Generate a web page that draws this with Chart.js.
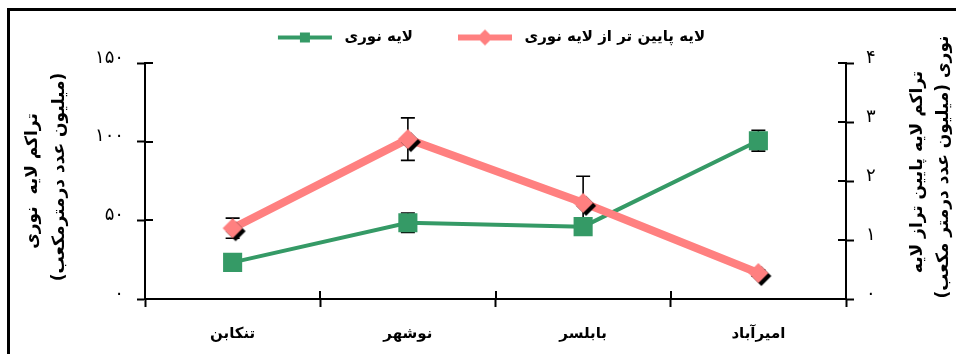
<!DOCTYPE html>
<html>
<head>
<meta charset="utf-8">
<script src="https://cdn.jsdelivr.net/npm/chart.js@4.4.1/dist/chart.umd.min.js"></script>
<style>
  html, body { margin: 0; padding: 0; background: #fff; }
  #wrap { width: 956px; height: 354px; position: relative; }
</style>
</head>
<body>
<div id="wrap"><canvas id="chart" width="956" height="354"></canvas></div>
<script>
// Sampling stations
const categories = ['تنکابن', 'نوشهر', 'بابلسر', 'امیرآباد'];

// Photic layer density (left axis) with standard errors
const photicValues = [23.3, 48.5, 46, 100.6];
const photicErrors = [3, 6.2, 3, 6.6];

// Density below the photic layer (right axis) with standard errors
const belowValues = [1.2, 2.71, 1.63, 0.44];
const belowErrors = [0.17, 0.36, 0.45, 0.05];

// Tick labels in Persian digits
const leftTickLabels = ['۰', '۵۰', '۱۰۰', '۱۵۰'];
const rightTickLabels = ['۰', '۱', '۲', '۳', '۴'];

const seriesNames = ['لایه نوری', 'لایه پایین تر از لایه نوری'];
const leftTitle = ['تراکم لایه  نوری', '(میلیون عدد درمترمکعب)'];
const rightTitle = ['تراکم لایه پایین تراز لایه', 'نوری (میلیون عدد درمتر مکعب)'];

const GREEN = '#359a66';
const PINK = '#ff8080';
const INK = '#000000';
const FONT = "'DejaVu Sans', sans-serif";

function diamondPath(g, cx, cy, r) {
  g.beginPath();
  g.moveTo(cx, cy - r);
  g.lineTo(cx + r, cy);
  g.lineTo(cx, cy + r);
  g.lineTo(cx - r, cy);
  g.closePath();
}

// Pink diamond marker with a dark drop shadow to the lower right
function makeDiamondMarker(r, off) {
  const size = 2 * (r + off + 1);
  const c = document.createElement('canvas');
  c.width = size; c.height = size;
  const g = c.getContext('2d');
  const m = size / 2;
  diamondPath(g, m + off, m + off, r);
  g.fillStyle = INK; g.fill();
  diamondPath(g, m, m, r);
  g.fillStyle = PINK; g.fill();
  return c;
}

// Legend symbol: a line segment with the series marker in the middle
function makeLegendIcon(color, lineW, marker) {
  const lead = 27, len = 54, tail = 5, h = 22;
  const c = document.createElement('canvas');
  c.width = lead + len + tail; c.height = h;
  const g = c.getContext('2d');
  const cy = h / 2, cx = lead + len / 2;
  g.strokeStyle = color; g.lineWidth = lineW;
  g.beginPath(); g.moveTo(lead, cy); g.lineTo(lead + len, cy); g.stroke();
  g.fillStyle = color;
  if (marker === 'square') {
    g.fillRect(cx - 5, cy - 5, 10, 10);
  } else {
    diamondPath(g, cx, cy, 8); g.fill();
  }
  return c;
}

const pinkMarker = makeDiamondMarker(10, 3);
const legendGreen = makeLegendIcon(GREEN, 4, 'square');
const legendPink = makeLegendIcon(PINK, 6, 'diamond');

// Extra gap between the legend row and the plot area
const legendGapPlugin = {
  id: 'legendGap',
  beforeLayout(chart) {
    const lg = chart.legend;
    if (lg && !lg._gapAdded) {
      const fit = lg.fit.bind(lg);
      lg.fit = function () { fit(); this.height += 8; };
      lg._gapAdded = true;
    }
  }
};

// Outer frame (top and left edges)
const framePlugin = {
  id: 'frame',
  beforeDraw(chart) {
    const ctx = chart.ctx;
    ctx.save();
    ctx.strokeStyle = INK; ctx.lineWidth = 3;
    ctx.beginPath();
    ctx.moveTo(chart.width + 5, 9.5);
    ctx.lineTo(8.5, 9.5);
    ctx.lineTo(8.5, chart.height + 5);
    ctx.stroke();
    ctx.restore();
  }
};

// Error bars drawn beneath the markers
const errorBarPlugin = {
  id: 'errorBars',
  beforeDatasetsDraw(chart) {
    const ctx = chart.ctx;
    const xs = chart.scales.x;
    ctx.save();
    ctx.strokeStyle = INK; ctx.lineWidth = 1.6;
    chart.data.datasets.forEach(ds => {
      const ys = chart.scales[ds.yAxisID];
      ds.data.forEach((v, i) => {
        const e = ds.errors[i];
        const x = xs.getPixelForValue(i);
        const y1 = ys.getPixelForValue(v + e);
        const y2 = ys.getPixelForValue(v - e);
        ctx.beginPath();
        ctx.moveTo(x, y1); ctx.lineTo(x, y2);
        ctx.moveTo(x - 7, y1); ctx.lineTo(x + 7, y1);
        ctx.moveTo(x - 7, y2); ctx.lineTo(x + 7, y2);
        ctx.stroke();
      });
    });
    ctx.restore();
  }
};

// Inner halves of the tick marks, so ticks cross the axis lines
const innerTickPlugin = {
  id: 'innerTicks',
  afterDatasetsDraw(chart) {
    const ctx = chart.ctx;
    const { x, y, y1 } = chart.scales;
    const len = 8;
    ctx.save();
    ctx.strokeStyle = INK; ctx.lineWidth = 2;
    ctx.beginPath();
    y.ticks.forEach((t, i) => {
      const p = Math.round(y.getPixelForTick(i));
      ctx.moveTo(y.right, p); ctx.lineTo(y.right + len, p);
    });
    y1.ticks.forEach((t, i) => {
      const p = Math.round(y1.getPixelForTick(i));
      ctx.moveTo(y1.left - len, p); ctx.lineTo(y1.left, p);
    });
    for (let i = 1; i < categories.length; i++) {
      const p = Math.round((x.getPixelForValue(i - 1) + x.getPixelForValue(i)) / 2);
      ctx.moveTo(p, x.top - len); ctx.lineTo(p, x.top);
    }
    ctx.stroke();
    ctx.restore();
  }
};

// Rotated two-line axis titles
const axisTitlePlugin = {
  id: 'axisTitles',
  afterDraw(chart) {
    const ctx = chart.ctx;
    const a = chart.chartArea;
    const midY = (a.top + a.bottom) / 2;
    const put = (text, x, y) => {
      ctx.save();
      ctx.translate(x, y);
      ctx.rotate(-Math.PI / 2);
      ctx.direction = 'rtl';
      ctx.textAlign = 'center';
      ctx.textBaseline = 'middle';
      ctx.fillText(text, 0, 0);
      ctx.restore();
    };
    ctx.save();
    ctx.fillStyle = INK;
    ctx.font = 'bold 17px ' + FONT;
    put(leftTitle[0], a.left - 112, midY);
    put(leftTitle[1], a.left - 85, midY - 4);
    put(rightTitle[0], a.right + 72, midY - 9);
    put(rightTitle[1], a.right + 98, midY - 14);
    ctx.restore();
  }
};

const chart = new Chart(document.getElementById('chart'), {
  type: 'line',
  data: {
    labels: categories,
    datasets: [
      {
        label: seriesNames[1],
        data: belowValues,
        errors: belowErrors,
        yAxisID: 'y1',
        borderColor: PINK,
        backgroundColor: PINK,
        borderWidth: 8,
        pointStyle: pinkMarker,
        tension: 0
      },
      {
        label: seriesNames[0],
        data: photicValues,
        errors: photicErrors,
        yAxisID: 'y',
        borderColor: GREEN,
        backgroundColor: GREEN,
        borderWidth: 4,
        pointStyle: 'rect',
        pointRadius: 13.5,
        pointBorderWidth: 0,
        tension: 0
      }
    ]
  },
  options: {
    responsive: false,
    animation: false,
    events: [],
    layout: { padding: { top: 12, left: 0, right: 0, bottom: 0 } },
    plugins: {
      tooltip: { enabled: false },
      legend: {
        position: 'top',
        labels: {
          usePointStyle: true,
          pointStyleWidth: legendGreen.width,
          padding: 18,
          color: INK,
          font: { family: FONT, size: 15, weight: 'bold' },
          generateLabels() {
            return [
              { text: seriesNames[0], pointStyle: legendGreen, fillStyle: GREEN, strokeStyle: GREEN, lineWidth: 0, hidden: false, datasetIndex: 1, fontColor: INK },
              { text: seriesNames[1], pointStyle: legendPink, fillStyle: PINK, strokeStyle: PINK, lineWidth: 0, hidden: false, datasetIndex: 0, fontColor: INK }
            ];
          }
        }
      }
    },
    scales: {
      x: {
        type: 'category',
        offset: true,
        afterFit(s) { s.height = 55; },
        grid: { display: true, offset: true, drawOnChartArea: false, tickLength: 8, tickWidth: 2, tickColor: INK },
        border: { display: true, color: INK, width: 2 },
        ticks: { color: INK, padding: 18, font: { family: FONT, size: 15, weight: 'bold' } }
      },
      y: {
        position: 'left',
        min: 0, max: 150,
        afterFit(s) { s.width = 145; },
        grid: { display: true, drawOnChartArea: false, tickLength: 8, tickWidth: 2, tickColor: INK },
        border: { display: true, color: INK, width: 2 },
        ticks: {
          stepSize: 50,
          color: INK,
          padding: 13,
          labelOffset: -5,
          font: { family: FONT, size: 18 },
          callback: (v, i) => leftTickLabels[i]
        }
      },
      y1: {
        position: 'right',
        min: 0, max: 4,
        afterFit(s) { s.width = 110; },
        grid: { display: true, drawOnChartArea: false, tickLength: 8, tickWidth: 2, tickColor: INK },
        border: { display: true, color: INK, width: 2 },
        ticks: {
          stepSize: 1,
          color: INK,
          padding: 12,
          labelOffset: -5,
          font: { family: FONT, size: 18 },
          callback: (v, i) => rightTickLabels[i]
        }
      }
    }
  },
  plugins: [legendGapPlugin, framePlugin, errorBarPlugin, innerTickPlugin, axisTitlePlugin]
});
</script>
</body>
</html>
